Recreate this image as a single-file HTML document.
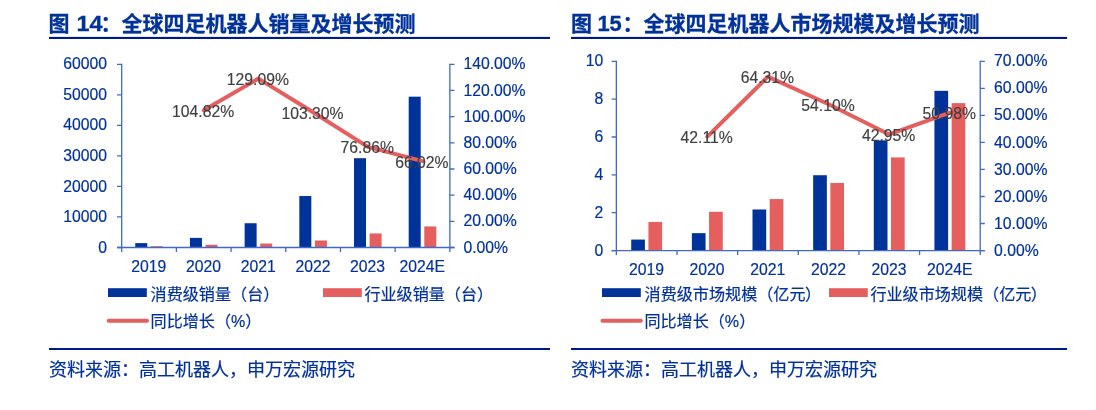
<!DOCTYPE html>
<html lang="zh-CN">
<head>
<meta charset="utf-8">
<title>全球四足机器人销量及市场规模预测</title>
<style>
html,body{margin:0;padding:0;background:#fff;}
body{width:1096px;height:410px;overflow:hidden;font-family:"Liberation Sans", "Noto Sans CJK SC", sans-serif;}
svg{display:block;}
svg text{font-family:"Liberation Sans", "Noto Sans CJK SC", sans-serif;}
.t{font-weight:bold;font-size:21px;fill:#00329a;stroke:#00329a;stroke-width:0.3px;}
.n{font-size:21.9px;}
.s{font-size:18px;fill:#00329a;stroke:#00329a;stroke-width:0.2px;}
</style>
</head>
<body>
<svg width="1096" height="410" viewBox="0 0 1096 410">
<rect width="1096" height="410" fill="#fff"/>
<text class="t" x="48.5" y="31.2">图 <tspan class="n" x="76.4" y="30.5" textLength="26" lengthAdjust="spacingAndGlyphs">14</tspan><tspan x="100.6" y="31.2">：全球四足机器人销量及增长预测</tspan></text>
<text class="t" x="570.9" y="31.2">图 <tspan class="n" x="597.4" y="30.7" textLength="24.4" lengthAdjust="spacingAndGlyphs">15</tspan><tspan x="622.6" y="31.2">：全球四足机器人市场规模及增长预测</tspan></text>
<rect x="49" y="36.9" width="501" height="2.1" fill="#001a8a"/>
<rect x="571" y="36.9" width="496.1" height="2.1" fill="#001a8a"/>
<rect x="135.25" y="243.13" width="12" height="4.37" fill="#00339a"/>
<rect x="150.85" y="246.22" width="12" height="1.28" fill="#e55f5f"/>
<rect x="189.94" y="237.88" width="12" height="9.62" fill="#00339a"/>
<rect x="205.54" y="244.75" width="12" height="2.75" fill="#e55f5f"/>
<rect x="244.63" y="223.23" width="12" height="24.27" fill="#00339a"/>
<rect x="260.23" y="243.53" width="12" height="3.97" fill="#e55f5f"/>
<rect x="299.32" y="196.05" width="12" height="51.45" fill="#00339a"/>
<rect x="314.92" y="240.48" width="12" height="7.02" fill="#e55f5f"/>
<rect x="354.01" y="158.19" width="12" height="89.31" fill="#00339a"/>
<rect x="369.61" y="233.45" width="12" height="14.05" fill="#e55f5f"/>
<rect x="408.70" y="96.67" width="12" height="150.83" fill="#00339a"/>
<rect x="424.30" y="226.43" width="12" height="21.07" fill="#e55f5f"/>
<g stroke="#4169c8" stroke-width="1.3" fill="none">
<path d="M121.7 63.65V252.0M449.85 63.65V252.0M117.0 247.5H454.45000000000005"/>
<path d="M117.0 247.50H121.7M117.0 216.97H121.7M117.0 186.43H121.7M117.0 155.90H121.7M117.0 125.37H121.7M117.0 94.83H121.7M117.0 64.30H121.7M449.85 247.50H454.45000000000005M449.85 221.33H454.45000000000005M449.85 195.16H454.45000000000005M449.85 168.99H454.45000000000005M449.85 142.81H454.45000000000005M449.85 116.64H454.45000000000005M449.85 90.47H454.45000000000005M449.85 64.30H454.45000000000005M176.39 247.5V252.0M231.08 247.5V252.0M285.78 247.5V252.0M340.47 247.5V252.0M395.16 247.5V252.0"/></g>
<g fill="#00329a" stroke="#00329a" stroke-width="0.18" font-size="15.75">
<text x="107.0" y="252.60" text-anchor="end">0</text>
<text x="107.0" y="222.07" text-anchor="end">10000</text>
<text x="107.0" y="191.53" text-anchor="end">20000</text>
<text x="107.0" y="161.00" text-anchor="end">30000</text>
<text x="107.0" y="130.47" text-anchor="end">40000</text>
<text x="107.0" y="99.93" text-anchor="end">50000</text>
<text x="107.0" y="69.40" text-anchor="end">60000</text>
<text x="463.4" y="252.60">0.00%</text>
<text x="463.4" y="226.43">20.00%</text>
<text x="463.4" y="200.26">40.00%</text>
<text x="463.4" y="174.09">60.00%</text>
<text x="463.4" y="147.91">80.00%</text>
<text x="463.4" y="121.74">100.00%</text>
<text x="463.4" y="95.57">120.00%</text>
<text x="463.4" y="69.40">140.00%</text>
<text x="148.85" y="271.80" text-anchor="middle">2019</text>
<text x="203.54" y="271.80" text-anchor="middle">2020</text>
<text x="258.23" y="271.80" text-anchor="middle">2021</text>
<text x="312.92" y="271.80" text-anchor="middle">2022</text>
<text x="367.61" y="271.80" text-anchor="middle">2023</text>
<text x="422.30" y="271.80" text-anchor="middle">2024E</text>
</g>
<polyline points="203.74,110.34 258.43,78.58 313.12,112.32 367.81,146.92 422.50,161.11" fill="none" stroke="#e55f5f" stroke-width="4" stroke-linejoin="round" stroke-linecap="round"/>
<g fill="#404040" stroke="#404040" stroke-width="0.15" font-size="15.75" text-anchor="middle">
<text x="203.14" y="116.84">104.82%</text>
<text x="257.83" y="85.08">129.09%</text>
<text x="312.52" y="118.82">103.30%</text>
<text x="367.21" y="153.42">76.86%</text>
<text x="421.90" y="167.61">66.02%</text>
</g>
<rect x="108" y="288.2" width="38.8" height="8.8" fill="#00339a"/>
<rect x="323" y="288.2" width="38.8" height="8.8" fill="#e55f5f"/>
<path d="M108.7 320.75h38.3" stroke="#e55f5f" stroke-width="4" stroke-linecap="round"/>
<g fill="#00329a" stroke="#00329a" stroke-width="0.2" font-size="16.1">
<text x="150.6" y="299.6">消费级销量（台）</text>
<text x="364.4" y="299.6">行业级销量（台）</text>
<text x="150.6" y="327.4">同比增长（%）</text>
</g>
<rect x="631.22" y="239.57" width="13.7" height="10.98" fill="#00339a"/>
<rect x="648.42" y="221.97" width="13.7" height="28.58" fill="#e55f5f"/>
<rect x="691.86" y="233.14" width="13.7" height="17.41" fill="#00339a"/>
<rect x="709.06" y="211.75" width="13.7" height="38.80" fill="#e55f5f"/>
<rect x="752.50" y="209.48" width="13.7" height="41.07" fill="#00339a"/>
<rect x="769.70" y="199.07" width="13.7" height="51.48" fill="#e55f5f"/>
<rect x="813.15" y="175.23" width="13.7" height="75.32" fill="#00339a"/>
<rect x="830.35" y="182.99" width="13.7" height="67.56" fill="#e55f5f"/>
<rect x="873.79" y="140.41" width="13.7" height="110.14" fill="#00339a"/>
<rect x="890.99" y="157.44" width="13.7" height="93.11" fill="#e55f5f"/>
<rect x="934.43" y="90.82" width="13.7" height="159.73" fill="#00339a"/>
<rect x="951.63" y="103.12" width="13.7" height="147.43" fill="#e55f5f"/>
<g stroke="#4169c8" stroke-width="1.3" fill="none">
<path d="M616.35 60.65V255.05M980.2 60.65V255.05M611.65 250.55H984.8000000000001"/>
<path d="M611.65 250.55H616.35M611.65 212.70H616.35M611.65 174.85H616.35M611.65 137.00H616.35M611.65 99.15H616.35M611.65 61.30H616.35M980.2 250.55H984.8000000000001M980.2 223.51H984.8000000000001M980.2 196.48H984.8000000000001M980.2 169.44H984.8000000000001M980.2 142.41H984.8000000000001M980.2 115.37H984.8000000000001M980.2 88.34H984.8000000000001M980.2 61.30H984.8000000000001M676.99 250.55V255.05M737.63 250.55V255.05M798.28 250.55V255.05M858.92 250.55V255.05M919.56 250.55V255.05"/></g>
<g fill="#00329a" stroke="#00329a" stroke-width="0.18" font-size="15.75">
<text x="603.2" y="255.65" text-anchor="end">0</text>
<text x="603.2" y="217.80" text-anchor="end">2</text>
<text x="603.2" y="179.95" text-anchor="end">4</text>
<text x="603.2" y="142.10" text-anchor="end">6</text>
<text x="603.2" y="104.25" text-anchor="end">8</text>
<text x="603.2" y="66.40" text-anchor="end">10</text>
<text x="994.0" y="255.65">0.00%</text>
<text x="994.0" y="228.61">10.00%</text>
<text x="994.0" y="201.58">20.00%</text>
<text x="994.0" y="174.54">30.00%</text>
<text x="994.0" y="147.51">40.00%</text>
<text x="994.0" y="120.47">50.00%</text>
<text x="994.0" y="93.44">60.00%</text>
<text x="994.0" y="66.40">70.00%</text>
<text x="646.47" y="274.85" text-anchor="middle">2019</text>
<text x="707.11" y="274.85" text-anchor="middle">2020</text>
<text x="767.75" y="274.85" text-anchor="middle">2021</text>
<text x="828.40" y="274.85" text-anchor="middle">2022</text>
<text x="889.04" y="274.85" text-anchor="middle">2023</text>
<text x="949.68" y="274.85" text-anchor="middle">2024E</text>
</g>
<polyline points="707.31,136.70 767.95,76.68 828.60,104.29 889.24,134.43 949.88,112.72" fill="none" stroke="#e55f5f" stroke-width="4" stroke-linejoin="round" stroke-linecap="round"/>
<g fill="#404040" stroke="#404040" stroke-width="0.15" font-size="15.75" text-anchor="middle">
<text x="706.71" y="143.20">42.11%</text>
<text x="767.35" y="83.18">64.31%</text>
<text x="828.00" y="110.79">54.10%</text>
<text x="888.64" y="140.93">42.95%</text>
<text x="949.28" y="119.22">50.98%</text>
</g>
<rect x="602" y="288.2" width="38.8" height="8.8" fill="#00339a"/>
<rect x="829" y="288.2" width="38.8" height="8.8" fill="#e55f5f"/>
<path d="M602.5 320.75h38.3" stroke="#e55f5f" stroke-width="4" stroke-linecap="round"/>
<g fill="#00329a" stroke="#00329a" stroke-width="0.2" font-size="16.1">
<text x="644.6" y="299.6">消费级市场规模（亿元<tspan dx="-0.6">）</tspan></text>
<text x="870.4" y="299.6">行业级市场规模（亿元<tspan dx="-0.6">）</tspan></text>
<text x="644.4" y="327.4">同比增长（%）</text>
</g>
<rect x="49" y="348" width="501" height="2" fill="#001a8a"/>
<rect x="571" y="348" width="496.1" height="2" fill="#001a8a"/>
<text class="s" x="49" y="376">资料来源：高工机器人，申万宏源研究</text>
<text class="s" x="571" y="376">资料来源：高工机器人，申万宏源研究</text>
</svg>
</body>
</html>
